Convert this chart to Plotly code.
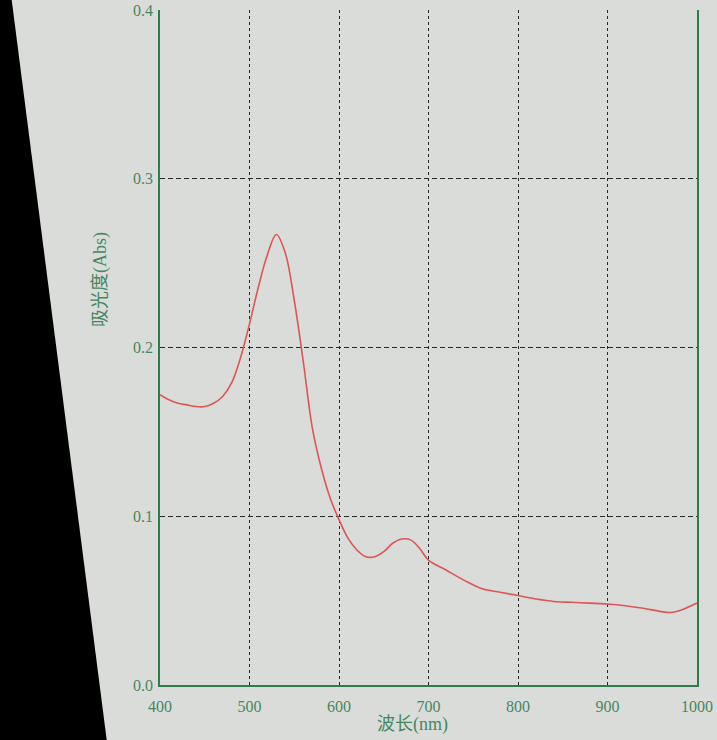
import plotly.graph_objects as go

# absorbance spectrum
wavelength = [400, 410, 420, 430, 440, 450, 460, 470, 480, 490,
              500, 510, 520, 530, 540, 550, 560, 570, 580, 590,
              600, 610, 620, 630, 640, 650, 660, 670, 680, 690,
              700, 720, 740, 760, 780, 800, 820, 840, 860, 880,
              900, 920, 940, 960, 970, 980, 1000]
absorbance = [0.172, 0.169, 0.167, 0.166, 0.165, 0.165, 0.167, 0.171, 0.179, 0.194,
              0.214, 0.236, 0.255, 0.267, 0.256, 0.228, 0.192, 0.153, 0.129, 0.111,
              0.098, 0.087, 0.080, 0.076, 0.076, 0.079, 0.084, 0.0865, 0.086, 0.081,
              0.074, 0.068, 0.062, 0.057, 0.055, 0.053, 0.051, 0.0495, 0.049, 0.0485,
              0.048, 0.047, 0.0455, 0.0435, 0.043, 0.044, 0.0486]

x_ticks = [400, 500, 600, 700, 800, 900, 1000]
y_ticks = [0.0, 0.1, 0.2, 0.3, 0.4]

bg = "rgb(218,220,217)"
green = "rgb(45,125,75)"
label_green = "rgb(70,135,95)"
serif = "Liberation Serif, Noto Sans CJK SC, serif"

fig = go.Figure()
fig.add_trace(go.Scatter(x=wavelength, y=absorbance,
                         mode='lines',
                         line=dict(color='rgb(222,85,85)', width=1.6),
                         line_shape='spline',
                         showlegend=False))

fig.update_xaxes(range=[400, 1000], tickvals=x_ticks,
                 ticktext=[str(v) for v in x_ticks], automargin=False,
                 showgrid=True, gridcolor='rgb(40,40,40)', griddash='3px,3px', gridwidth=1,
                 showline=True, linecolor=green, linewidth=1.5,
                 zeroline=False, ticks='', ticklabelstandoff=6,
                 tickfont=dict(family=serif, size=16, color=label_green))
fig.update_yaxes(range=[0, 0.4], tickvals=y_ticks,
                 ticktext=['%.1f' % v for v in y_ticks], automargin=False,
                 showgrid=True, gridcolor='rgb(40,40,40)', griddash='5px,3px', gridwidth=1,
                 showline=True, linecolor=green, linewidth=1.5, mirror=True,
                 zeroline=False, ticks='', ticklabelstandoff=2,
                 tickfont=dict(family=serif, size=16, color=label_green))

fig.add_annotation(text="波长(nm)", xref='paper', yref='paper', x=0.47, y=-0.04,
                   yanchor='top', showarrow=False,
                   font=dict(family=serif, size=18, color=label_green))
fig.add_annotation(text="吸光度(Abs)", xref='paper', yref='paper', x=-0.135, y=0.6,
                   textangle=-90, showarrow=False,
                   font=dict(family=serif, size=18, color=label_green))

# dark edge of the monitor in the photo
fig.add_shape(type='path', xref='paper', yref='paper', layer='above',
              path='M -0.31,1.02 L -0.277,1.02 L -0.099,-0.083 L -0.31,-0.083 Z',
              fillcolor='black', line=dict(width=0))

fig.update_layout(
    width=717,
    height=740,
    autosize=False,
    margin=dict(t=10, b=55, l=160, r=20),
    paper_bgcolor=bg,
    plot_bgcolor=bg,
)

fig.write_html("out.html", config={'displayModeBar': False},
               post_script="document.body.style.margin='0';document.body.style.overflow='hidden';")
